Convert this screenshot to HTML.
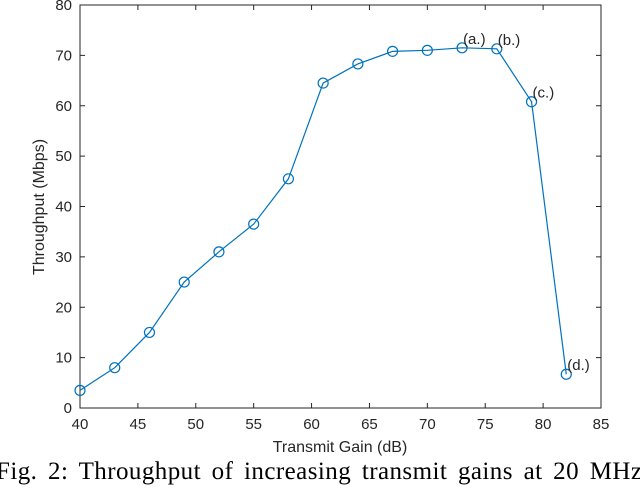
<!DOCTYPE html>
<html><head><meta charset="utf-8"><style>
body{margin:0;background:#fff;width:640px;height:486px;overflow:hidden}
svg text{font-family:"Liberation Sans",sans-serif;fill:#262626}
</style></head><body>
<svg width="640" height="486" id="chart">
</svg>
<script>
const xs=[40,43,46,49,52,55,58,61,64,67,70,73,76,79,82];
const ys=[3.5,8,15,25,31,36.5,45.5,64.5,68.3,70.8,71,71.5,71.3,60.8,6.7];
const xTicks=[40,45,50,55,60,65,70,75,80,85];
const yTicks=[0,10,20,30,40,50,60,70,80];
const annotations=[{i:11,t:"(a.)"},{i:12,t:"(b.)"},{i:13,t:"(c.)"},{i:14,t:"(d.)"}];
const L=80,R=601,T=5,B=408;
const sx=v=>L+(v-40)/45*(R-L);
const sy=v=>B-v/80*(B-T);
const svg=document.getElementById('chart');
const NS='http://www.w3.org/2000/svg';
function mk(tag,attrs,parent){const e=document.createElementNS(NS,tag);for(const k in attrs)e.setAttribute(k,attrs[k]);(parent||svg).appendChild(e);return e;}
const frame=mk('rect',{x:L,y:T,width:R-L,height:B-T,fill:'none',stroke:'#262626','stroke-width':1});


xTicks.forEach(v=>{const x=sx(v);
 mk('line',{x1:x,x2:x,y1:B,y2:B-5,stroke:'#262626'});mk('line',{x1:x,x2:x,y1:T,y2:T+5,stroke:'#262626'});
 const t=mk('text',{x:x,y:B+21,'text-anchor':'middle','font-size':15});t.textContent=v;
 
 });
yTicks.forEach(v=>{const y=sy(v);
 mk('line',{x1:L,x2:L+5,y1:y,y2:y,stroke:'#262626'});mk('line',{x1:R,x2:R-5,y1:y,y2:y,stroke:'#262626'});
 const t=mk('text',{x:L-8,y:y+5,'text-anchor':'end','font-size':15});t.textContent=v;
 
 });
const line=mk('polyline',{points:xs.map((x,i)=>sx(x)+','+sy(ys[i])).join(' '),fill:'none',stroke:'#0072BD','stroke-width':1.2});


xs.forEach((x,i)=>{const c=mk('circle',{cx:sx(x),cy:sy(ys[i]),r:5,fill:'none',stroke:'#0072BD','stroke-width':1.2});
 
 });
annotations.forEach(a=>{const t=mk('text',{x:sx(xs[a.i])+1,y:sy(ys[a.i])-4,'font-size':15,fill:'#000'});t.textContent=a.t;
 
 });
const xl=mk('text',{x:340,y:452,'text-anchor':'middle','font-size':16});xl.textContent='Transmit Gain (dB)';


const yl=mk('text',{x:0,y:0,'text-anchor':'middle','font-size':16,transform:'translate(44,207) rotate(-90)'});yl.textContent='Throughput (Mbps)';


const cap=mk('text',{x:-4,y:479,'font-size':25,textLength:646,lengthAdjust:'spacing',style:'font-family:"Liberation Serif",serif;fill:#000;word-spacing:4px'});cap.textContent='Fig. 2: Throughput of increasing transmit gains at 20 MHz';


</script>
</body></html>
